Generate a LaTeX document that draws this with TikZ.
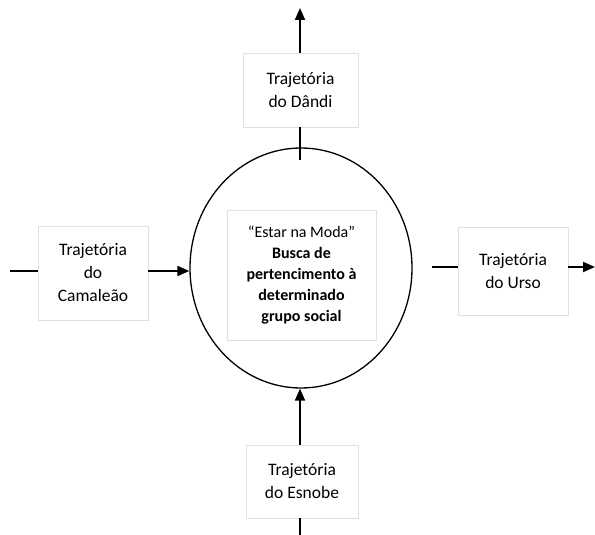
\documentclass[tikz,border=0pt]{standalone}
\usepackage{fontspec}
\setmainfont{Carlito}
\usetikzlibrary{arrows.meta,shapes.geometric}
\begin{document}
\begin{tikzpicture}[x=1pt,y=-1pt,
  tbox/.style={draw=black!12, line width=0.6pt, fill=white, align=center, inner sep=0pt, font=\fontsize{17.5}{23}\selectfont},
  conn/.style={line width=2pt},
  arr/.style={line width=2pt, -{Triangle[length=12pt,width=10pt]}}]
\useasboundingbox (0,0) rectangle (595,535);
\node[draw, line width=1.3pt, ellipse, inner sep=0pt, minimum width=222pt, minimum height=240pt] (ell) at (301,268) {};
\node[tbox, minimum width=149pt, minimum height=130pt, font=\fontsize{16}{21}\selectfont] (core) at (301.5,275) {``Estar na Moda''\\\textbf{Busca de}\\\textbf{pertencimento à}\\\textbf{determinado}\\\textbf{grupo social}};
\node[tbox, minimum width=110pt, minimum height=94pt] (cam) at (93,273) {Trajetória\\do\\Camaleão};
\node[tbox, minimum width=110pt, minimum height=88pt] (urso) at (513,271) {Trajetória\\do Urso};
\node[tbox, minimum width=115pt, minimum height=74pt] (dandi) at (300.5,90) {Trajetória\\do Dândi};
\node[tbox, minimum width=112pt, minimum height=73pt] (esn) at (302,481.5) {Trajetória\\do Esnobe};
\coordinate (camL) at (10,271);
\coordinate (ursoR) at (595,267);
\coordinate (top) at (300,8);
\coordinate (dtop) at (300,160);
\coordinate (bot) at (300,535);
\draw[conn] (camL) -- (camL -| cam.west);
\draw[arr] (cam.east |- camL) -- (ell.west |- camL);
\draw[conn] (432,267) -- (urso.west |- ursoR);
\draw[arr] (urso.east |- ursoR) -- (ursoR);
\draw[arr] (dandi.north -| top) -- (top);
\draw[conn] (dandi.south -| top) -- (dtop);
\draw[arr] (esn.north -| top) -- (ell.south -| top);
\draw[conn] (esn.south -| bot) -- (bot);
\end{tikzpicture}
\end{document}
